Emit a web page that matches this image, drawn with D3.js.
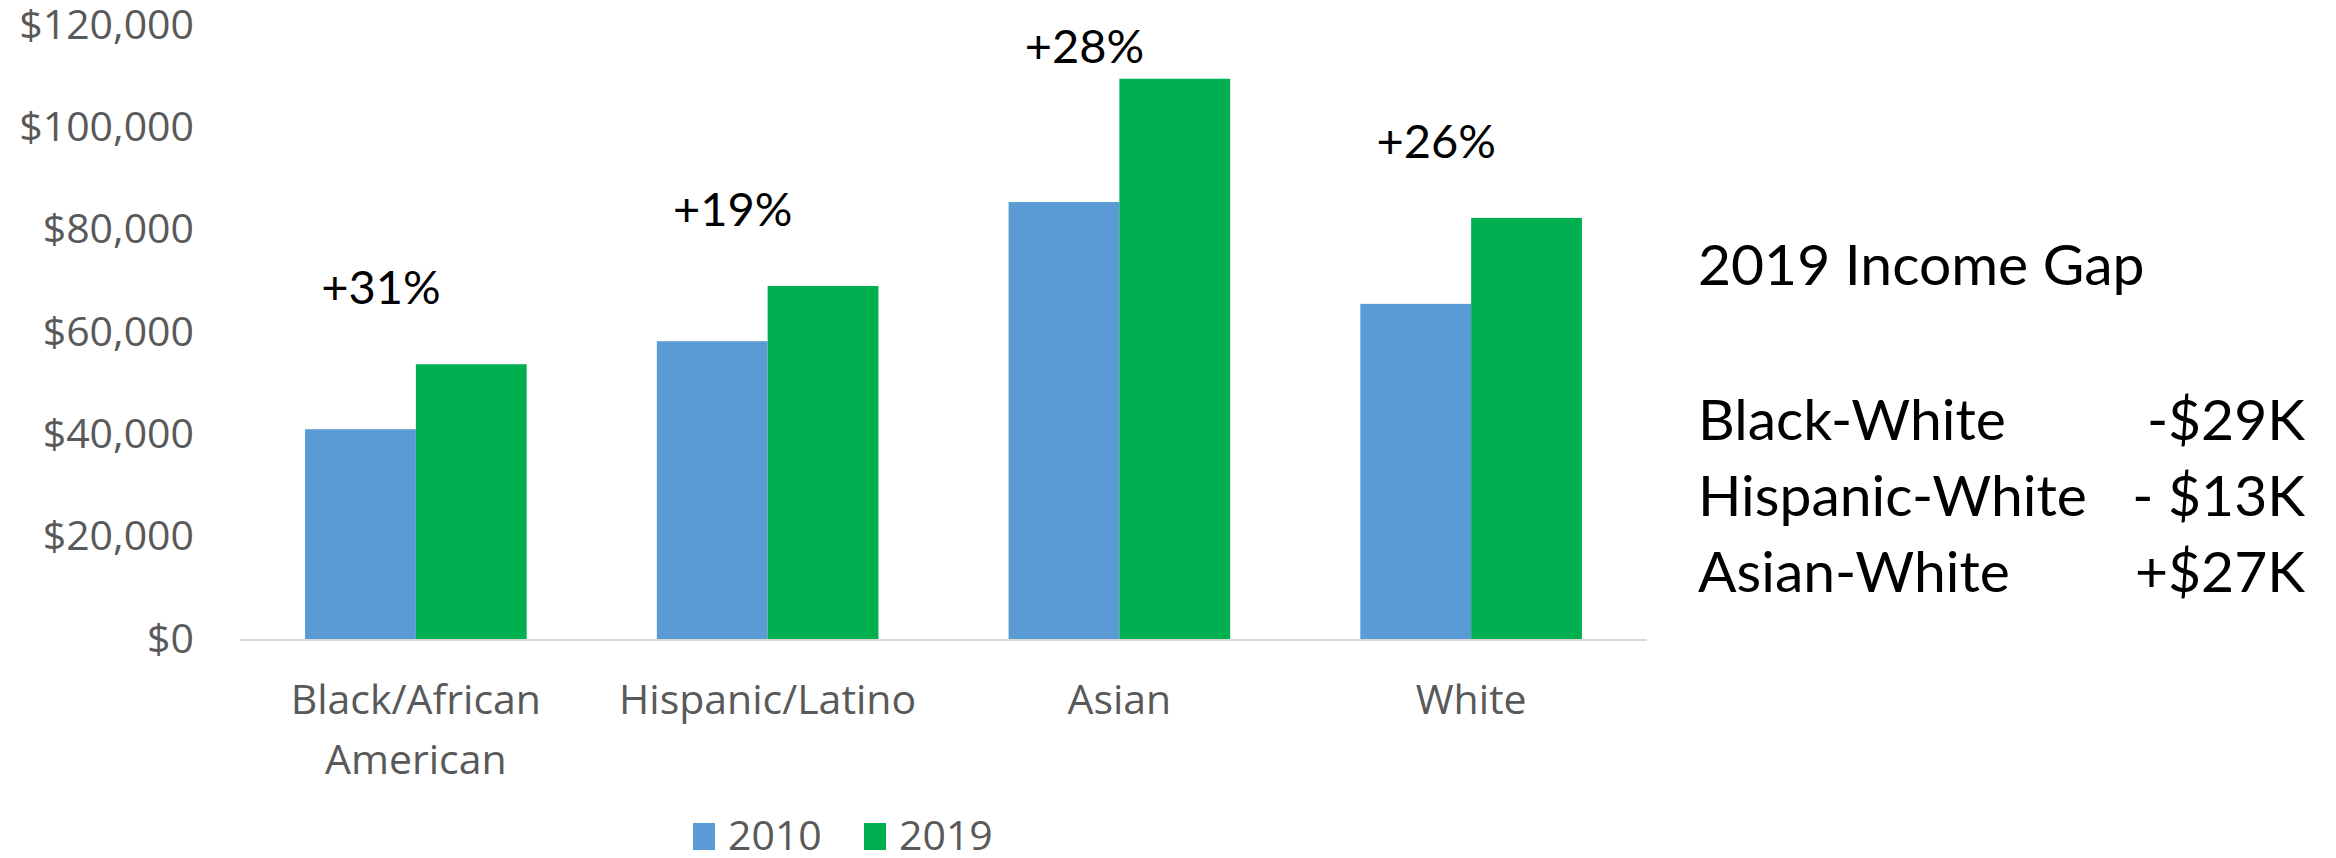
<!DOCTYPE html>
<html>
<head>
<meta charset="utf-8">
<script src="https://cdn.jsdelivr.net/npm/d3@7"></script>
<style>
  html, body { margin: 0; padding: 0; background: #fff; }
  svg { display: block; }
</style>
</head>
<body>
<svg id="chart" width="2336" height="858"></svg>
<script>
"use strict"

// chart data
var categories   = ["Black/African American", "Hispanic/Latino", "Asian", "White"];
var catLines     = [["Black/African", "American"], ["Hispanic/Latino"], ["Asian"], ["White"]];
var seriesNames  = ["2010", "2019"];
var values2010   = [41000, 58200, 85400, 65500];
var values2019   = [53700, 69000, 109500, 82300];
var changeLabels = ["+31%", "+19%", "+28%", "+26%"];
var yTicks       = [0, 20000, 40000, 60000, 80000, 100000, 120000];

// side note
var gapTitle  = "2019 Income Gap";
var gapNames  = ["Black-White", "Hispanic-White", "Asian-White"];
var gapValues = ["-$29K", "- $13K", "+$27K"];

var colors   = { "2010": "#5B9BD5", "2019": "#00B050" };
var grayFont = "'Open Sans', sans-serif";
var darkFont = "Lato, 'Open Sans', sans-serif";

var svg = d3.select('#chart');

var plot = { left: 240, right: 1647, top: 25, bottom: 639 };

var x = d3.scaleBand()
    .domain(categories)
    .range([plot.left, plot.right])
    .paddingInner(0.37)
    .paddingOuter(0.185);

var xs = d3.scaleBand()
    .domain(seriesNames)
    .range([0, x.bandwidth()]);

var y = d3.scaleLinear()
    .domain([0, 120000])
    .range([plot.bottom, plot.top]);

var rows = categories.map((c, i) => ({
    cat:    c,
    lines:  catLines[i],
    change: changeLabels[i],
    vals:   [values2010[i], values2019[i]]
}));

// y axis (labels only)
var fmt = d3.format('$,');
var yAxis = svg.append('g')
    .attr('transform', 'translate(' + (plot.left - 46) + ',0)')
    .call(d3.axisLeft(y).tickValues(yTicks).tickFormat(fmt).tickSize(0).tickPadding(0));
yAxis.select('.domain').remove();
yAxis.selectAll('text')
    .attr('font-family', grayFont)
    .attr('font-size', '41px')
    .style('fill', '#595959');

// bars
var groups = svg.selectAll('g.group').data(rows)
    .enter()
    .append('g')
    .attr('class', 'group')
    .attr('transform', d => 'translate(' + x(d.cat) + ',0)');

groups.selectAll('rect')
    .data(d => d.vals.map((v, j) => ({ key: seriesNames[j], value: v })))
    .enter()
    .append('rect')
    .attr('x', d => xs(d.key))
    .attr('y', d => y(d.value))
    .attr('width', xs.bandwidth())
    .attr('height', d => y(0) - y(d.value))
    .style('fill', d => colors[d.key]);

// baseline
svg.append('line')
    .attr('x1', plot.left)
    .attr('x2', plot.right)
    .attr('y1', y(0) + 1)
    .attr('y2', y(0) + 1)
    .style('stroke', '#D9D9D9')
    .style('stroke-width', 2);

// category labels
var catText = svg.selectAll('text.cat').data(rows)
    .enter()
    .append('text')
    .attr('class', 'cat')
    .attr('text-anchor', 'middle')
    .attr('font-family', grayFont)
    .attr('font-size', '41px')
    .style('fill', '#595959');
catText.selectAll('tspan')
    .data(d => d.lines.map(l => ({ line: l, cat: d.cat })))
    .enter()
    .append('tspan')
    .attr('x', d => x(d.cat) + x.bandwidth() / 2)
    .attr('y', (d, i) => y(0) + 75 + i * 60)
    .text(d => d.line);

// change labels above each group
svg.selectAll('text.change').data(rows)
    .enter()
    .append('text')
    .attr('class', 'change')
    .attr('text-anchor', 'middle')
    .attr('x', d => x(d.cat) + x.bandwidth() / 2 - 35)
    .attr('y', d => Math.max(y(d.vals[1]) - 60, 63))
    .attr('font-family', darkFont)
    .attr('font-size', '47px')
    .style('fill', '#000')
    .text(d => d.change);

// legend
var legendCenter = 845;
var legend = svg.append('g')
    .attr('transform', 'translate(' + (legendCenter - 152) + ',836)');
var item = legend.selectAll('g').data(seriesNames)
    .enter()
    .append('g')
    .attr('transform', (d, i) => 'translate(' + (i * 171) + ',0)');
item.append('rect')
    .attr('x', 0)
    .attr('y', -13)
    .attr('width', 22)
    .attr('height', 27)
    .style('fill', d => colors[d]);
item.append('text')
    .attr('x', 35)
    .attr('y', 14)
    .attr('font-family', grayFont)
    .attr('font-size', '41px')
    .style('fill', '#595959')
    .text(d => d);

// income gap note
var note = svg.append('g')
    .attr('font-family', darkFont)
    .attr('font-size', '57px')
    .style('fill', '#000');
note.append('text')
    .attr('x', 1698)
    .attr('y', 285)
    .text(gapTitle);
note.selectAll('text.gname').data(gapNames)
    .enter()
    .append('text')
    .attr('class', 'gname')
    .attr('x', 1698)
    .attr('y', (d, i) => 440 + i * 76)
    .text(d => d);
note.selectAll('text.gval').data(gapValues)
    .enter()
    .append('text')
    .attr('class', 'gval')
    .attr('text-anchor', 'end')
    .attr('x', 2305)
    .attr('y', (d, i) => 440 + i * 76)
    .text(d => d);
</script>
</body>
</html>
